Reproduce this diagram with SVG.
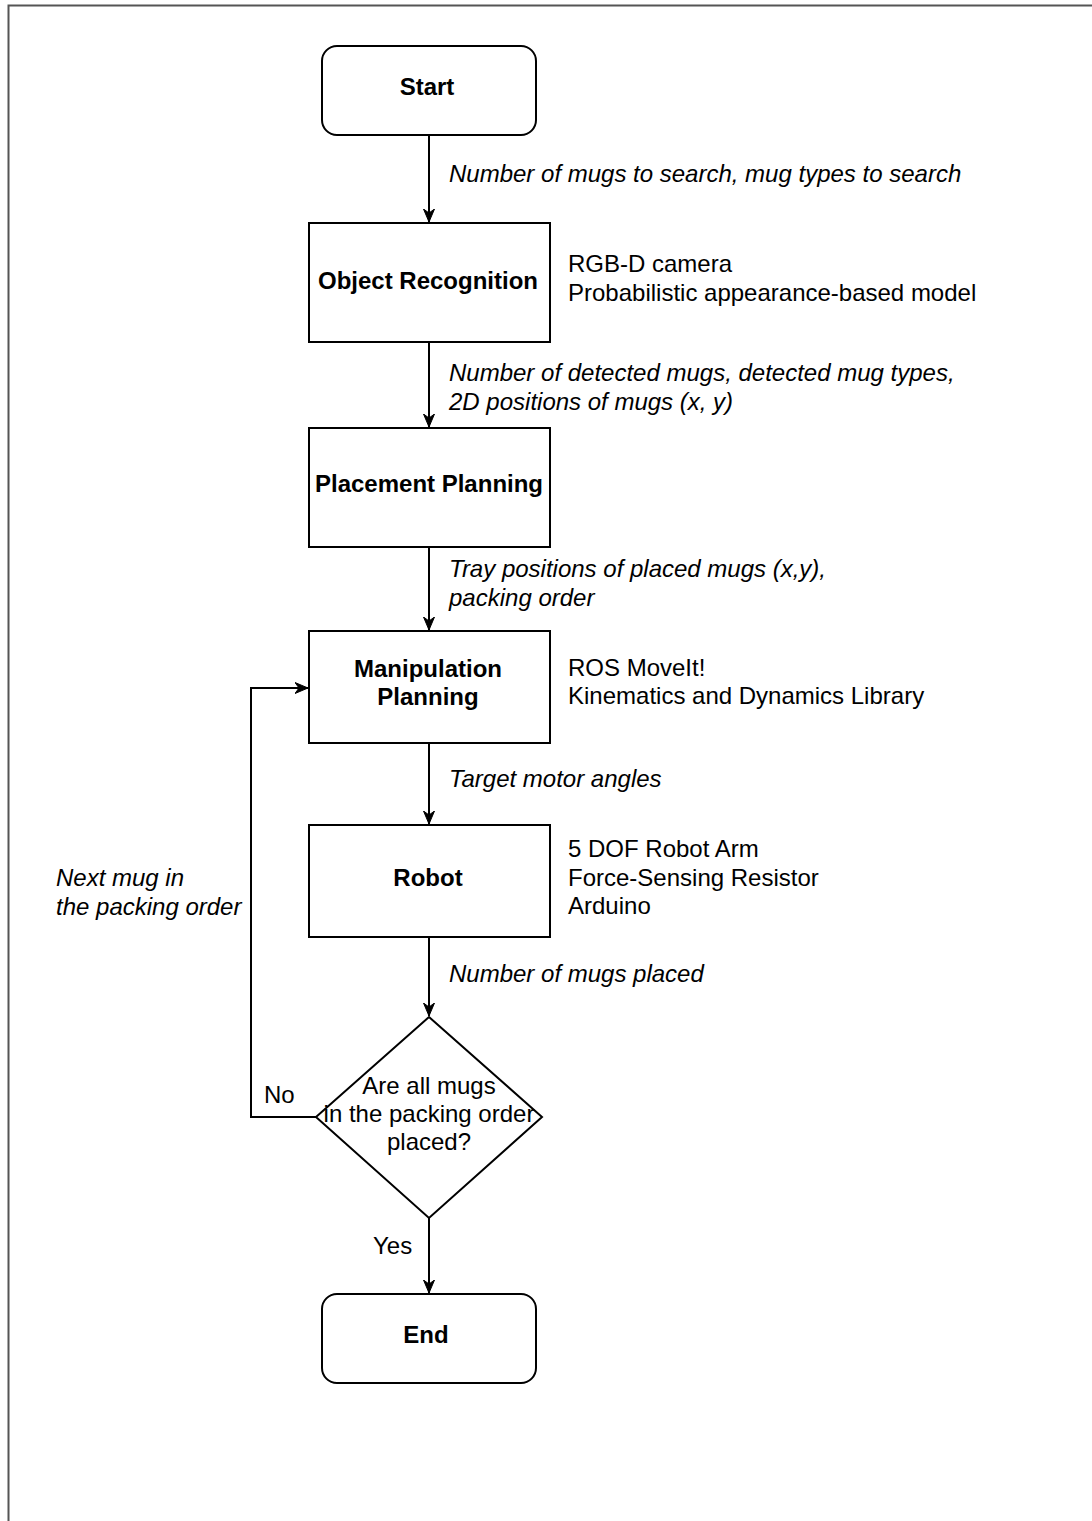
<svg xmlns="http://www.w3.org/2000/svg" width="1092" height="1521" viewBox="0 0 1092 1521">
  <style>
    .frame { fill: none; stroke: #555; stroke-width: 2; }
    .box { fill: #fff; stroke: #000; stroke-width: 2; }
    .edge { fill: none; stroke: #000; stroke-width: 2; }
    text { font-family: "Liberation Sans", Arial, Helvetica, sans-serif; font-size: 24px; fill: #000; }
    .title { font-weight: bold; text-anchor: middle; }
    .mid { text-anchor: middle; }
    .flow { font-style: italic; }
  </style>
  <defs>
    <marker id="arrow" viewBox="0 0 14 12" refX="13" refY="6" markerWidth="14" markerHeight="12" markerUnits="userSpaceOnUse" orient="auto">
      <path d="M0,0.5 L13,6 L0,11.5 L4,6 Z" fill="#000" stroke="#000" stroke-width="1"/>
    </marker>
  </defs>

  <rect width="1092" height="1521" fill="#fff"/>
  <rect class="frame" x="8.5" y="5.5" width="1100" height="1530"/>

  <g id="connectors">
    <line class="edge" x1="429" y1="135" x2="429" y2="222" marker-end="url(#arrow)"/>
    <line class="edge" x1="429" y1="342" x2="429" y2="427" marker-end="url(#arrow)"/>
    <line class="edge" x1="429" y1="547" x2="429" y2="630" marker-end="url(#arrow)"/>
    <line class="edge" x1="429" y1="743" x2="429" y2="824" marker-end="url(#arrow)"/>
    <line class="edge" x1="429" y1="937" x2="429" y2="1016" marker-end="url(#arrow)"/>
    <line class="edge" x1="429" y1="1218" x2="429" y2="1293" marker-end="url(#arrow)"/>
    <polyline class="edge" points="316,1117 251,1117 251,688 308,688" marker-end="url(#arrow)"/>
    <text class="flow" x="449" y="182">Number of mugs to search, mug types to search</text>
    <text class="flow" x="449" y="381">Number of detected mugs, detected mug types,</text>
    <text class="flow" x="449" y="410">2D positions of mugs (x, y)</text>
    <text class="flow" x="449" y="577">Tray positions of placed mugs (x,y),</text>
    <text class="flow" x="449" y="606">packing order</text>
    <text class="flow" x="449" y="787">Target motor angles</text>
    <text class="flow" x="449" y="982">Number of mugs placed</text>
    <text class="flow" x="56" y="886">Next mug in</text>
    <text class="flow" x="56" y="915">the packing order</text>
    <text x="264" y="1103">No</text>
    <text x="373" y="1254">Yes</text>
  </g>

  <g id="start">
    <rect class="box" x="322" y="46" width="214" height="89" rx="15" ry="15"/>
    <text class="title" x="427" y="95">Start</text>
  </g>

  <g id="object-recognition">
    <rect class="box" x="309" y="223" width="241" height="119"/>
    <text class="title" x="428" y="289">Object Recognition</text>
    <text x="568" y="272">RGB-D camera</text>
    <text x="568" y="301">Probabilistic appearance-based model</text>
  </g>

  <g id="placement-planning">
    <rect class="box" x="309" y="428" width="241" height="119"/>
    <text class="title" x="429" y="492">Placement Planning</text>
  </g>

  <g id="manipulation-planning">
    <rect class="box" x="309" y="631" width="241" height="112"/>
    <text class="title" x="428" y="677">Manipulation</text>
    <text class="title" x="428" y="705">Planning</text>
    <text x="568" y="676">ROS MoveIt!</text>
    <text x="568" y="704">Kinematics and Dynamics Library</text>
  </g>

  <g id="robot">
    <rect class="box" x="309" y="825" width="241" height="112"/>
    <text class="title" x="428" y="886">Robot</text>
    <text x="568" y="857">5 DOF Robot Arm</text>
    <text x="568" y="886">Force-Sensing Resistor</text>
    <text x="568" y="914">Arduino</text>
  </g>

  <g id="all-placed">
    <polygon class="box" points="429,1017 542,1117 429,1218 316,1117"/>
    <text class="mid" x="429" y="1094">Are all mugs</text>
    <text class="mid" x="429" y="1122">in the packing order</text>
    <text class="mid" x="429" y="1150">placed?</text>
  </g>

  <g id="end">
    <rect class="box" x="322" y="1294" width="214" height="89" rx="15" ry="15"/>
    <text class="title" x="426" y="1343">End</text>
  </g>
</svg>
